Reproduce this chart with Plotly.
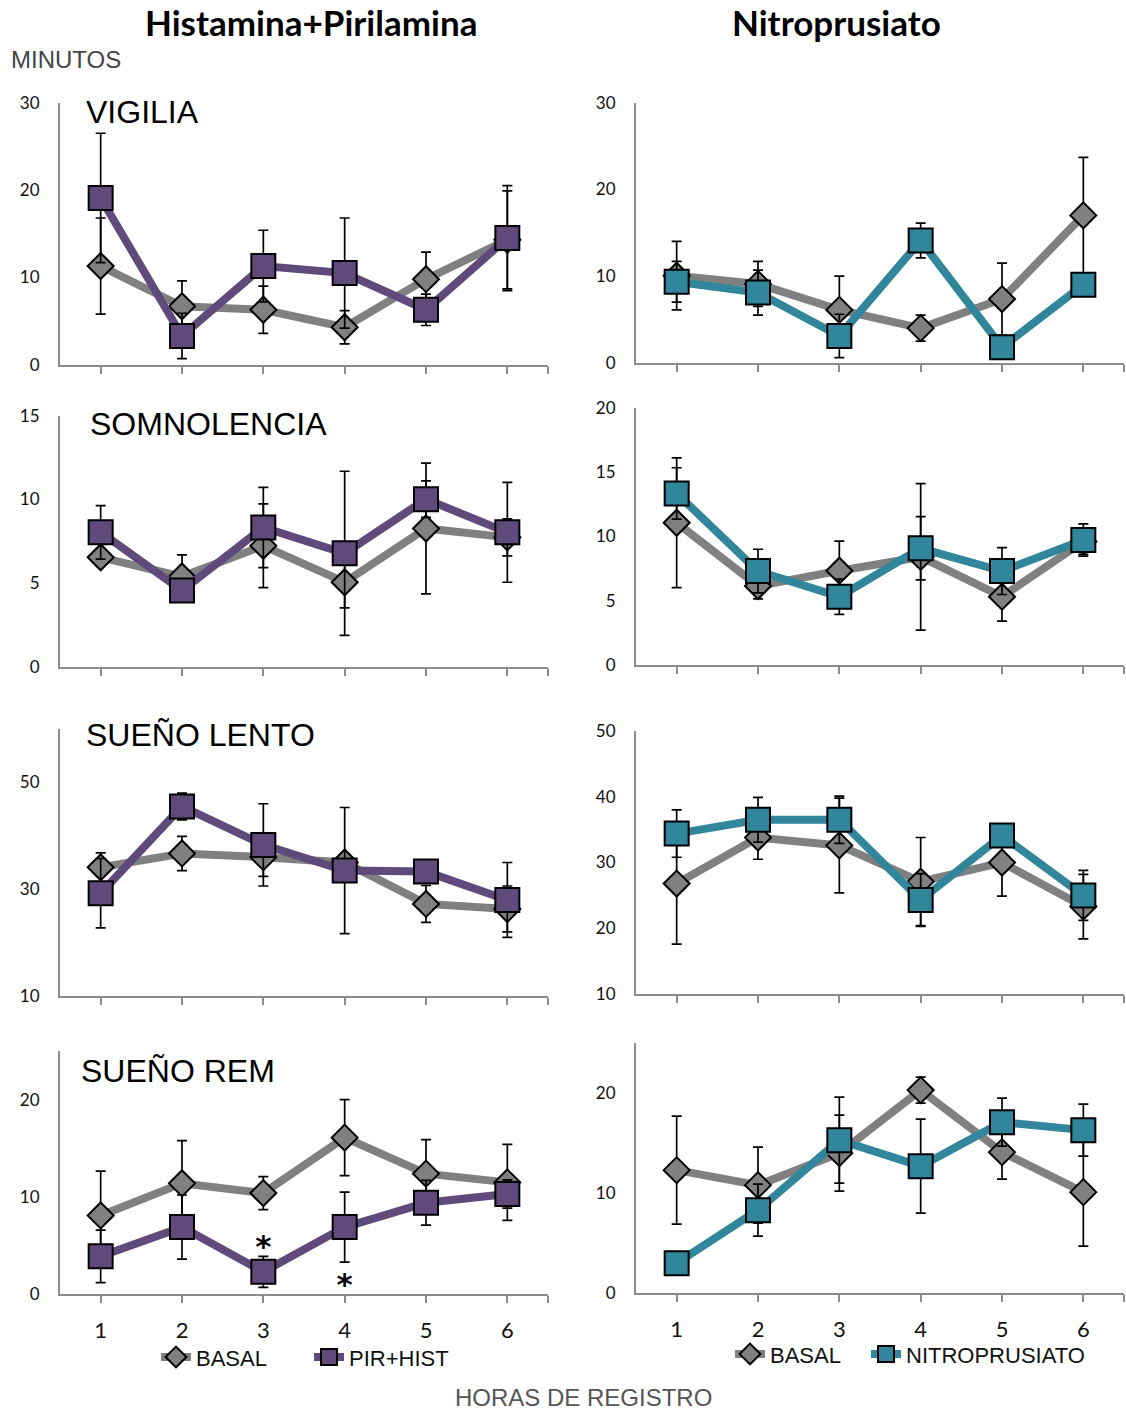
import plotly.graph_objects as go

W, H = 1126, 1412

hours = [1, 2, 3, 4, 5, 6]
hour_labels = ["1", "2", "3", "4", "5", "6"]

# ---- Histamina+Pirilamina column ----
vig_basal_h = [11.3, 6.7, 6.3, 4.3, 9.8, 14.3]
vig_basal_h_err = [5.5, 2.9, 2.7, 1.9, 3.1, 5.6]
vig_pir = [19.1, 3.3, 11.3, 10.5, 6.3, 14.5]
vig_pir_err = [7.4, 2.6, 4.1, 6.3, 1.8, 6.0]

som_basal_h = [6.55, 5.4, 7.24, 5.06, 8.27, 7.74]
som_basal_h_err = [0.5, 1.3, 2.5, 1.53, 3.9, 1.1]
som_pir = [8.04, 4.56, 8.33, 6.79, 10.02, 8.04]
som_pir_err = [1.6, 0.6, 2.4, 4.9, 1.09, 2.98]

len_basal_h = [34.1, 36.7, 36.0, 35.0, 27.25, 26.3]
len_basal_h_err = [2.7, 3.2, 3.6, 1.2, 3.45, 4.3]
len_pir = [29.25, 45.5, 38.3, 33.5, 33.3, 28.0]
len_pir_err = [6.5, 2.5, 7.7, 11.8, 1.5, 7.0]

rem_basal_h = [8.1, 11.4, 10.4, 16.1, 12.4, 11.5]
rem_basal_h_err = [4.55, 4.4, 1.7, 3.9, 3.5, 3.9]
rem_pir = [3.9, 6.9, 2.3, 6.9, 9.4, 10.3]
rem_pir_err = [2.7, 3.3, 1.6, 3.6, 2.3, 1.45]

star_hours = [3, 4]
star_y = [4.6, 0.7]

# ---- Nitroprusiato column ----
vig_basal_n = [10.05, 9.1, 6.1, 4.0, 7.35, 17.0]
vig_basal_n_err = [3.95, 2.6, 3.9, 1.5, 4.15, 6.7]
vig_nitro = [9.35, 8.1, 3.1, 14.1, 1.8, 9.0]
vig_nitro_err = [2.35, 2.6, 2.5, 2.0, 0.8, 1.0]

som_basal_n = [11.06, 6.14, 7.33, 8.4, 5.31, 9.6]
som_basal_n_err = [5.05, 1.0, 2.3, 5.7, 1.9, 1.0]
som_nitro = [13.34, 7.3, 5.31, 9.07, 7.3, 9.72]
som_nitro_err = [2.0, 1.7, 1.37, 2.46, 1.82, 1.26]

len_basal_n = [26.8, 33.8, 32.6, 27.1, 30.0, 23.3]
len_basal_n_err = [9.2, 3.3, 7.2, 6.7, 5.1, 4.9]
len_nitro = [34.4, 36.5, 36.5, 24.3, 34.1, 25.0]
len_nitro_err = [3.6, 3.4, 3.6, 4.0, 1.5, 3.8]

rem_basal_n = [12.3, 10.8, 14.0, 20.3, 14.1, 10.1]
rem_basal_n_err = [5.4, 3.8, 3.8, 1.3, 2.7, 5.4]
rem_nitro = [3.0, 8.3, 15.3, 12.7, 17.1, 16.3]
rem_nitro_err = [0.8, 2.6, 4.3, 4.7, 2.4, 2.6]

col_titles = ["Histamina+Pirilamina", "Nitroprusiato"]
row_labels = ["VIGILIA", "SOMNOLENCIA", "SUEÑO LENTO", "SUEÑO REM"]
series_names = ["BASAL", "PIR+HIST", "NITROPRUSIATO"]

GRAY = "#808080"
PURPLE = "#5f4a7b"
TEAL = "#31869c"
AXIS = "#8c8c8c"
NUMF = "Lato, Carlito, Liberation Sans, sans-serif"
ARIAL = "Liberation Sans, Arial, sans-serif"


def yp(py):
    """page pixel (from top) -> paper fraction, compensating the page capture."""
    t = (py - 12.35) / 0.9847
    return 1 - t / H


# panel definitions: (col, basal, basal_err, treat, treat_err, yrange, dtick, ypx_top, ypx_bottom)
panels = [
    (0, vig_basal_h, vig_basal_h_err, vig_pir, vig_pir_err, [0, 30], 10, 104, 366),
    (1, vig_basal_n, vig_basal_n_err, vig_nitro, vig_nitro_err, [0, 30], 10, 104, 364),
    (0, som_basal_h, som_basal_h_err, som_pir, som_pir_err, [0, 15], 5, 417, 668),
    (1, som_basal_n, som_basal_n_err, som_nitro, som_nitro_err, [0, 20], 5, 409, 666),
    (0, len_basal_h, len_basal_h_err, len_pir, len_pir_err, [10, 60], 20, 730, 997),
    (1, len_basal_n, len_basal_n_err, len_nitro, len_nitro_err, [10, 50], 10, 732, 995),
    (0, rem_basal_h, rem_basal_h_err, rem_pir, rem_pir_err, [0, 25], 10, 1052, 1295),
    (1, rem_basal_n, rem_basal_n_err, rem_nitro, rem_nitro_err, [0, 25], 10, 1044, 1294),
]
col_xpx = [(60, 548), (636, 1124)]

fig = go.Figure()
layout = {}

for i, (col, b, be, t, te, yr, dt, ytop, ybot) in enumerate(panels):
    n = i + 1
    xs = "x" if n == 1 else f"x{n}"
    ys = "y" if n == 1 else f"y{n}"
    xk = "xaxis" if n == 1 else f"xaxis{n}"
    yk = "yaxis" if n == 1 else f"yaxis{n}"
    bottom_row = i >= 6
    x0, x1 = col_xpx[col]
    layout[xk] = dict(
        domain=[x0 / W, x1 / W], anchor=ys, range=[0.5, 6.5],
        tickvals=hours + [6.5],
        ticktext=(hour_labels + [""]) if bottom_row else [""] * 7,
        ticks="outside", ticklen=7, tickwidth=1.5, tickcolor=AXIS,
        showline=True, linecolor=AXIS, linewidth=2, showgrid=False, zeroline=False,
        tickfont=dict(family=NUMF, size=22, color="#111"),
        ticklabelstandoff=8,
    )
    layout[yk] = dict(
        domain=[yp(ybot), yp(ytop)], anchor=xs, range=yr, dtick=dt,
        tick0=yr[0], showline=True, linecolor=AXIS, linewidth=2, showgrid=False,
        zeroline=False, ticks="", tickfont=dict(family=NUMF, size=17, color="#111"),
        ticklabelstandoff=15,
    )
    treat_color = PURPLE if col == 0 else TEAL
    treat_name = series_names[1] if col == 0 else series_names[2]
    lg_basal = "legend" if col == 0 else "legend2"
    lg_treat = "legend" if col == 0 else "legend3"
    fig.add_trace(go.Scatter(
        x=hours, y=b, xaxis=xs, yaxis=ys, mode="lines+markers", name=series_names[0],
        line=dict(color=GRAY, width=8),
        marker=dict(symbol="diamond", size=20, color=GRAY, line=dict(color="#000", width=2)),
        error_y=dict(type="data", array=be, visible=True, color="#000", thickness=1.7, width=5),
        showlegend=bottom_row, legend=lg_basal,
    ))
    fig.add_trace(go.Scatter(
        x=hours, y=t, xaxis=xs, yaxis=ys, mode="lines+markers", name=treat_name,
        line=dict(color=treat_color, width=8),
        marker=dict(symbol="square", size=24, color=treat_color, line=dict(color="#000", width=2)),
        error_y=dict(type="data", array=te, visible=True, color="#000", thickness=1.7, width=5),
        showlegend=bottom_row, legend=lg_treat,
    ))

# significance stars (panel 7)
fig.add_trace(go.Scatter(
    x=star_hours, y=star_y, xaxis="x7", yaxis="y7", mode="text", text=["<b>*</b>", "<b>*</b>"],
    textfont=dict(family="DejaVu Sans", size=31, color="#000"), showlegend=False,
    textposition="middle center",
))

ann = []
ann.append(dict(text=f"<b>{col_titles[0]}</b>", x=311 / W, y=yp(23), xref="paper", yref="paper",
                showarrow=False, font=dict(family=NUMF, size=35, color="#000"), xanchor="center", yanchor="middle"))
ann.append(dict(text=f"<b>{col_titles[1]}</b>", x=836 / W, y=yp(23), xref="paper", yref="paper",
                showarrow=False, font=dict(family=NUMF, size=35, color="#000"), xanchor="center", yanchor="middle"))
ann.append(dict(text="MINUTOS", x=9 / W, y=yp(61), xref="paper", yref="paper", showarrow=False,
                font=dict(family=ARIAL, size=24, color="#444"), xanchor="left", yanchor="middle"))
ann.append(dict(text="HORAS DE REGISTRO", x=583 / W, y=yp(1398), xref="paper", yref="paper", showarrow=False,
                font=dict(family=ARIAL, size=24, color="#555"), xanchor="center", yanchor="middle"))
label_pos = [(84, 113), (88, 425), (84, 736), (79, 1072)]
for lab, (lx, ly) in zip(row_labels, label_pos):
    ann.append(dict(text=lab, x=lx / W, y=yp(ly), xref="paper", yref="paper", showarrow=False,
                    font=dict(family=ARIAL, size=32, color="#000"), xanchor="left", yanchor="middle"))

leg_common = dict(orientation="h", xanchor="left", yanchor="middle",
                  font=dict(family=ARIAL, size=22, color="#111"), itemsizing="trace",
                  bgcolor="rgba(0,0,0,0)", tracegroupgap=0)

layout.update(
    width=W, height=H, margin=dict(l=0, r=0, t=0, b=0),
    paper_bgcolor="white", plot_bgcolor="white",
    annotations=ann,
    legend=dict(x=156 / W, y=yp(1358), entrywidth=108, entrywidthmode="pixels", **leg_common),
    legend2=dict(x=730 / W, y=yp(1355), **leg_common),
    legend3=dict(x=866 / W, y=yp(1355), **leg_common),
)
fig.update_layout(**layout)
fig.write_html("out.html", config={"displayModeBar": False},
               post_script="document.body.style.margin='0px';")
